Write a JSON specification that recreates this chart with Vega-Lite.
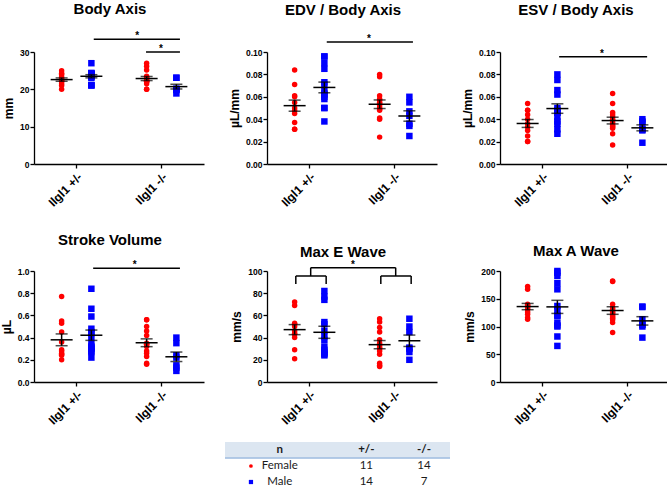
{
  "$schema": "https://vega.github.io/schema/vega-lite/v6.json",
  "background": "white",
  "padding": {"left": 0, "top": 2, "right": 0, "bottom": 0},
  "datasets": {
    "ba": [
      {"g":"Ilgl1 +/-","s":"Female","v":25.0},{"g":"Ilgl1 +/-","s":"Female","v":24.3},{"g":"Ilgl1 +/-","s":"Female","v":24.0},{"g":"Ilgl1 +/-","s":"Female","v":23.3},{"g":"Ilgl1 +/-","s":"Female","v":22.8},{"g":"Ilgl1 +/-","s":"Female","v":22.5},{"g":"Ilgl1 +/-","s":"Female","v":22.3},{"g":"Ilgl1 +/-","s":"Female","v":22.0},{"g":"Ilgl1 +/-","s":"Female","v":21.5},{"g":"Ilgl1 +/-","s":"Female","v":21.0},{"g":"Ilgl1 +/-","s":"Female","v":20.0},
      {"g":"Ilgl1 +/-","s":"Male","v":27.0},{"g":"Ilgl1 +/-","s":"Male","v":24.4},{"g":"Ilgl1 +/-","s":"Male","v":24.2},{"g":"Ilgl1 +/-","s":"Male","v":24.2},{"g":"Ilgl1 +/-","s":"Male","v":24.0},{"g":"Ilgl1 +/-","s":"Male","v":23.8},{"g":"Ilgl1 +/-","s":"Male","v":23.5},{"g":"Ilgl1 +/-","s":"Male","v":23.3},{"g":"Ilgl1 +/-","s":"Male","v":23.1},{"g":"Ilgl1 +/-","s":"Male","v":24.2},{"g":"Ilgl1 +/-","s":"Male","v":24.0},{"g":"Ilgl1 +/-","s":"Male","v":21.2},{"g":"Ilgl1 +/-","s":"Male","v":21.1},{"g":"Ilgl1 +/-","s":"Male","v":21.0},
      {"g":"Ilgl1 -/-","s":"Female","v":27.0},{"g":"Ilgl1 -/-","s":"Female","v":26.2},{"g":"Ilgl1 -/-","s":"Female","v":25.2},{"g":"Ilgl1 -/-","s":"Female","v":23.5},{"g":"Ilgl1 -/-","s":"Female","v":23.1},{"g":"Ilgl1 -/-","s":"Female","v":23.0},{"g":"Ilgl1 -/-","s":"Female","v":22.5},{"g":"Ilgl1 -/-","s":"Female","v":22.2},{"g":"Ilgl1 -/-","s":"Female","v":22.0},{"g":"Ilgl1 -/-","s":"Female","v":22.2},{"g":"Ilgl1 -/-","s":"Female","v":22.1},{"g":"Ilgl1 -/-","s":"Female","v":21.5},{"g":"Ilgl1 -/-","s":"Female","v":20.0},{"g":"Ilgl1 -/-","s":"Female","v":20.0},
      {"g":"Ilgl1 -/-","s":"Male","v":23.1},{"g":"Ilgl1 -/-","s":"Male","v":23.1},{"g":"Ilgl1 -/-","s":"Male","v":20.0},{"g":"Ilgl1 -/-","s":"Male","v":20.2},{"g":"Ilgl1 -/-","s":"Male","v":20.0},{"g":"Ilgl1 -/-","s":"Male","v":19.8},{"g":"Ilgl1 -/-","s":"Male","v":18.9}
    ],
    "edv": [
      {"g":"Ilgl1 +/-","s":"Female","v":0.084},{"g":"Ilgl1 +/-","s":"Female","v":0.071},{"g":"Ilgl1 +/-","s":"Female","v":0.061},{"g":"Ilgl1 +/-","s":"Female","v":0.060},{"g":"Ilgl1 +/-","s":"Female","v":0.055},{"g":"Ilgl1 +/-","s":"Female","v":0.050},{"g":"Ilgl1 +/-","s":"Female","v":0.048},{"g":"Ilgl1 +/-","s":"Female","v":0.045},{"g":"Ilgl1 +/-","s":"Female","v":0.037},{"g":"Ilgl1 +/-","s":"Female","v":0.031},{"g":"Ilgl1 +/-","s":"Female","v":0.031},
      {"g":"Ilgl1 +/-","s":"Male","v":0.096},{"g":"Ilgl1 +/-","s":"Male","v":0.096},{"g":"Ilgl1 +/-","s":"Male","v":0.090},{"g":"Ilgl1 +/-","s":"Male","v":0.085},{"g":"Ilgl1 +/-","s":"Male","v":0.073},{"g":"Ilgl1 +/-","s":"Male","v":0.071},{"g":"Ilgl1 +/-","s":"Male","v":0.065},{"g":"Ilgl1 +/-","s":"Male","v":0.063},{"g":"Ilgl1 +/-","s":"Male","v":0.062},{"g":"Ilgl1 +/-","s":"Male","v":0.060},{"g":"Ilgl1 +/-","s":"Male","v":0.058},{"g":"Ilgl1 +/-","s":"Male","v":0.050},{"g":"Ilgl1 +/-","s":"Male","v":0.050},{"g":"Ilgl1 +/-","s":"Male","v":0.038},
      {"g":"Ilgl1 -/-","s":"Female","v":0.080},{"g":"Ilgl1 -/-","s":"Female","v":0.078},{"g":"Ilgl1 -/-","s":"Female","v":0.061},{"g":"Ilgl1 -/-","s":"Female","v":0.058},{"g":"Ilgl1 -/-","s":"Female","v":0.057},{"g":"Ilgl1 -/-","s":"Female","v":0.055},{"g":"Ilgl1 -/-","s":"Female","v":0.054},{"g":"Ilgl1 -/-","s":"Female","v":0.052},{"g":"Ilgl1 -/-","s":"Female","v":0.050},{"g":"Ilgl1 -/-","s":"Female","v":0.049},{"g":"Ilgl1 -/-","s":"Female","v":0.048},{"g":"Ilgl1 -/-","s":"Female","v":0.041},{"g":"Ilgl1 -/-","s":"Female","v":0.040},{"g":"Ilgl1 -/-","s":"Female","v":0.024},
      {"g":"Ilgl1 -/-","s":"Male","v":0.060},{"g":"Ilgl1 -/-","s":"Male","v":0.055},{"g":"Ilgl1 -/-","s":"Male","v":0.047},{"g":"Ilgl1 -/-","s":"Male","v":0.043},{"g":"Ilgl1 -/-","s":"Male","v":0.036},{"g":"Ilgl1 -/-","s":"Male","v":0.034},{"g":"Ilgl1 -/-","s":"Male","v":0.025}
    ],
    "esv": [
      {"g":"Ilgl1 +/-","s":"Female","v":0.054},{"g":"Ilgl1 +/-","s":"Female","v":0.048},{"g":"Ilgl1 +/-","s":"Female","v":0.048},{"g":"Ilgl1 +/-","s":"Female","v":0.044},{"g":"Ilgl1 +/-","s":"Female","v":0.040},{"g":"Ilgl1 +/-","s":"Female","v":0.036},{"g":"Ilgl1 +/-","s":"Female","v":0.033},{"g":"Ilgl1 +/-","s":"Female","v":0.030},{"g":"Ilgl1 +/-","s":"Female","v":0.025},{"g":"Ilgl1 +/-","s":"Female","v":0.020},{"g":"Ilgl1 +/-","s":"Female","v":0.020},
      {"g":"Ilgl1 +/-","s":"Male","v":0.080},{"g":"Ilgl1 +/-","s":"Male","v":0.075},{"g":"Ilgl1 +/-","s":"Male","v":0.066},{"g":"Ilgl1 +/-","s":"Male","v":0.062},{"g":"Ilgl1 +/-","s":"Male","v":0.050},{"g":"Ilgl1 +/-","s":"Male","v":0.046},{"g":"Ilgl1 +/-","s":"Male","v":0.048},{"g":"Ilgl1 +/-","s":"Male","v":0.046},{"g":"Ilgl1 +/-","s":"Male","v":0.046},{"g":"Ilgl1 +/-","s":"Male","v":0.042},{"g":"Ilgl1 +/-","s":"Male","v":0.036},{"g":"Ilgl1 +/-","s":"Male","v":0.038},{"g":"Ilgl1 +/-","s":"Male","v":0.031},{"g":"Ilgl1 +/-","s":"Male","v":0.027},
      {"g":"Ilgl1 -/-","s":"Female","v":0.063},{"g":"Ilgl1 -/-","s":"Female","v":0.054},{"g":"Ilgl1 -/-","s":"Female","v":0.046},{"g":"Ilgl1 -/-","s":"Female","v":0.044},{"g":"Ilgl1 -/-","s":"Female","v":0.042},{"g":"Ilgl1 -/-","s":"Female","v":0.040},{"g":"Ilgl1 -/-","s":"Female","v":0.039},{"g":"Ilgl1 -/-","s":"Female","v":0.037},{"g":"Ilgl1 -/-","s":"Female","v":0.035},{"g":"Ilgl1 -/-","s":"Female","v":0.034},{"g":"Ilgl1 -/-","s":"Female","v":0.033},{"g":"Ilgl1 -/-","s":"Female","v":0.032},{"g":"Ilgl1 -/-","s":"Female","v":0.027},{"g":"Ilgl1 -/-","s":"Female","v":0.017},
      {"g":"Ilgl1 -/-","s":"Male","v":0.040},{"g":"Ilgl1 -/-","s":"Male","v":0.038},{"g":"Ilgl1 -/-","s":"Male","v":0.037},{"g":"Ilgl1 -/-","s":"Male","v":0.031},{"g":"Ilgl1 -/-","s":"Male","v":0.031},{"g":"Ilgl1 -/-","s":"Male","v":0.030},{"g":"Ilgl1 -/-","s":"Male","v":0.019}
    ],
    "sv": [
      {"g":"Ilgl1 +/-","s":"Female","v":0.77},{"g":"Ilgl1 +/-","s":"Female","v":0.55},{"g":"Ilgl1 +/-","s":"Female","v":0.53},{"g":"Ilgl1 +/-","s":"Female","v":0.45},{"g":"Ilgl1 +/-","s":"Female","v":0.36},{"g":"Ilgl1 +/-","s":"Female","v":0.29},{"g":"Ilgl1 +/-","s":"Female","v":0.28},{"g":"Ilgl1 +/-","s":"Female","v":0.26},{"g":"Ilgl1 +/-","s":"Female","v":0.25},{"g":"Ilgl1 +/-","s":"Female","v":0.24},{"g":"Ilgl1 +/-","s":"Female","v":0.20},
      {"g":"Ilgl1 +/-","s":"Male","v":0.84},{"g":"Ilgl1 +/-","s":"Male","v":0.66},{"g":"Ilgl1 +/-","s":"Male","v":0.59},{"g":"Ilgl1 +/-","s":"Male","v":0.48},{"g":"Ilgl1 +/-","s":"Male","v":0.45},{"g":"Ilgl1 +/-","s":"Male","v":0.44},{"g":"Ilgl1 +/-","s":"Male","v":0.40},{"g":"Ilgl1 +/-","s":"Male","v":0.34},{"g":"Ilgl1 +/-","s":"Male","v":0.32},{"g":"Ilgl1 +/-","s":"Male","v":0.31},{"g":"Ilgl1 +/-","s":"Male","v":0.30},{"g":"Ilgl1 +/-","s":"Male","v":0.28},{"g":"Ilgl1 +/-","s":"Male","v":0.27},{"g":"Ilgl1 +/-","s":"Male","v":0.22},
      {"g":"Ilgl1 -/-","s":"Female","v":0.56},{"g":"Ilgl1 -/-","s":"Female","v":0.56},{"g":"Ilgl1 -/-","s":"Female","v":0.50},{"g":"Ilgl1 -/-","s":"Female","v":0.46},{"g":"Ilgl1 -/-","s":"Female","v":0.42},{"g":"Ilgl1 -/-","s":"Female","v":0.35},{"g":"Ilgl1 -/-","s":"Female","v":0.34},{"g":"Ilgl1 -/-","s":"Female","v":0.34},{"g":"Ilgl1 -/-","s":"Female","v":0.32},{"g":"Ilgl1 -/-","s":"Female","v":0.28},{"g":"Ilgl1 -/-","s":"Female","v":0.26},{"g":"Ilgl1 -/-","s":"Female","v":0.23},{"g":"Ilgl1 -/-","s":"Female","v":0.17},{"g":"Ilgl1 -/-","s":"Female","v":0.16},
      {"g":"Ilgl1 -/-","s":"Male","v":0.40},{"g":"Ilgl1 -/-","s":"Male","v":0.35},{"g":"Ilgl1 -/-","s":"Male","v":0.24},{"g":"Ilgl1 -/-","s":"Male","v":0.22},{"g":"Ilgl1 -/-","s":"Male","v":0.15},{"g":"Ilgl1 -/-","s":"Male","v":0.13},{"g":"Ilgl1 -/-","s":"Male","v":0.10}
    ],
    "me": [
      {"g":"Ilgl1 +/-","s":"Female","v":72},{"g":"Ilgl1 +/-","s":"Female","v":69},{"g":"Ilgl1 +/-","s":"Female","v":53},{"g":"Ilgl1 +/-","s":"Female","v":52},{"g":"Ilgl1 +/-","s":"Female","v":50},{"g":"Ilgl1 +/-","s":"Female","v":46},{"g":"Ilgl1 +/-","s":"Female","v":44},{"g":"Ilgl1 +/-","s":"Female","v":43},{"g":"Ilgl1 +/-","s":"Female","v":40},{"g":"Ilgl1 +/-","s":"Female","v":29},{"g":"Ilgl1 +/-","s":"Female","v":21},
      {"g":"Ilgl1 +/-","s":"Male","v":82},{"g":"Ilgl1 +/-","s":"Male","v":77},{"g":"Ilgl1 +/-","s":"Male","v":74},{"g":"Ilgl1 +/-","s":"Male","v":54},{"g":"Ilgl1 +/-","s":"Male","v":52},{"g":"Ilgl1 +/-","s":"Male","v":46},{"g":"Ilgl1 +/-","s":"Male","v":41},{"g":"Ilgl1 +/-","s":"Male","v":38},{"g":"Ilgl1 +/-","s":"Male","v":32},{"g":"Ilgl1 +/-","s":"Male","v":29},{"g":"Ilgl1 +/-","s":"Male","v":27},{"g":"Ilgl1 +/-","s":"Male","v":26},{"g":"Ilgl1 +/-","s":"Male","v":25},{"g":"Ilgl1 +/-","s":"Male","v":24},
      {"g":"Ilgl1 -/-","s":"Female","v":57},{"g":"Ilgl1 -/-","s":"Female","v":54},{"g":"Ilgl1 -/-","s":"Female","v":49},{"g":"Ilgl1 -/-","s":"Female","v":45},{"g":"Ilgl1 -/-","s":"Female","v":38},{"g":"Ilgl1 -/-","s":"Female","v":35},{"g":"Ilgl1 -/-","s":"Female","v":33},{"g":"Ilgl1 -/-","s":"Female","v":31},{"g":"Ilgl1 -/-","s":"Female","v":30},{"g":"Ilgl1 -/-","s":"Female","v":28},{"g":"Ilgl1 -/-","s":"Female","v":25},{"g":"Ilgl1 -/-","s":"Female","v":17},{"g":"Ilgl1 -/-","s":"Female","v":15},{"g":"Ilgl1 -/-","s":"Female","v":14},
      {"g":"Ilgl1 -/-","s":"Male","v":57},{"g":"Ilgl1 -/-","s":"Male","v":50},{"g":"Ilgl1 -/-","s":"Male","v":45},{"g":"Ilgl1 -/-","s":"Male","v":31},{"g":"Ilgl1 -/-","s":"Male","v":30},{"g":"Ilgl1 -/-","s":"Male","v":27},{"g":"Ilgl1 -/-","s":"Male","v":20}
    ],
    "ma": [
      {"g":"Ilgl1 +/-","s":"Female","v":172},{"g":"Ilgl1 +/-","s":"Female","v":167},{"g":"Ilgl1 +/-","s":"Female","v":140},{"g":"Ilgl1 +/-","s":"Female","v":138},{"g":"Ilgl1 +/-","s":"Female","v":136},{"g":"Ilgl1 +/-","s":"Female","v":134},{"g":"Ilgl1 +/-","s":"Female","v":131},{"g":"Ilgl1 +/-","s":"Female","v":126},{"g":"Ilgl1 +/-","s":"Female","v":122},{"g":"Ilgl1 +/-","s":"Female","v":116},{"g":"Ilgl1 +/-","s":"Female","v":113},
      {"g":"Ilgl1 +/-","s":"Male","v":200},{"g":"Ilgl1 +/-","s":"Male","v":197},{"g":"Ilgl1 +/-","s":"Male","v":191},{"g":"Ilgl1 +/-","s":"Male","v":178},{"g":"Ilgl1 +/-","s":"Male","v":167},{"g":"Ilgl1 +/-","s":"Male","v":137},{"g":"Ilgl1 +/-","s":"Male","v":130},{"g":"Ilgl1 +/-","s":"Male","v":120},{"g":"Ilgl1 +/-","s":"Male","v":119},{"g":"Ilgl1 +/-","s":"Male","v":107},{"g":"Ilgl1 +/-","s":"Male","v":102},{"g":"Ilgl1 +/-","s":"Male","v":100},{"g":"Ilgl1 +/-","s":"Male","v":82},{"g":"Ilgl1 +/-","s":"Male","v":65},
      {"g":"Ilgl1 -/-","s":"Female","v":182},{"g":"Ilgl1 -/-","s":"Female","v":181},{"g":"Ilgl1 -/-","s":"Female","v":140},{"g":"Ilgl1 -/-","s":"Female","v":134},{"g":"Ilgl1 -/-","s":"Female","v":131},{"g":"Ilgl1 -/-","s":"Female","v":127},{"g":"Ilgl1 -/-","s":"Female","v":125},{"g":"Ilgl1 -/-","s":"Female","v":123},{"g":"Ilgl1 -/-","s":"Female","v":120},{"g":"Ilgl1 -/-","s":"Female","v":117},{"g":"Ilgl1 -/-","s":"Female","v":115},{"g":"Ilgl1 -/-","s":"Female","v":112},{"g":"Ilgl1 -/-","s":"Female","v":107},{"g":"Ilgl1 -/-","s":"Female","v":89},
      {"g":"Ilgl1 -/-","s":"Male","v":136},{"g":"Ilgl1 -/-","s":"Male","v":135},{"g":"Ilgl1 -/-","s":"Male","v":113},{"g":"Ilgl1 -/-","s":"Male","v":104},{"g":"Ilgl1 -/-","s":"Male","v":103},{"g":"Ilgl1 -/-","s":"Male","v":100},{"g":"Ilgl1 -/-","s":"Male","v":80}
    ],
    "tbl": [
      {"r":"n","c":"lab","t":"n"},{"r":"n","c":"+/-","t":"+/-"},{"r":"n","c":"-/-","t":"-/-"},
      {"r":"Female","c":"lab","t":"Female"},{"r":"Female","c":"+/-","t":"11"},{"r":"Female","c":"-/-","t":"14"},
      {"r":"Male","c":"lab","t":"Male"},{"r":"Male","c":"+/-","t":"14"},{"r":"Male","c":"-/-","t":"7"}
    ]
  },
  "resolve": {"scale": {"size": "independent"}},
  "spacing": 15,
  "vconcat": [
    {
      "spacing": 24,
      "hconcat": [
        {
          "bounds": "flush",
          "spacing": 107,
          "vconcat": [
            {
              "width": 170, "height": 112,
              "title": {"text": "Body Axis", "offset": 14},
              "data": {"name": "ba"},
              "layer": [
                {"mark": {"type": "point", "filled": true, "opacity": 1},
                 "encoding": {
                   "x": {"field": "g", "type": "nominal", "scale": {"type": "band", "domain": ["Ilgl1 +/-", "Ilgl1 -/-"], "paddingInner": 0.3, "paddingOuter": 0.15}, "axis": {"title": null}},
                   "xOffset": {"field": "s", "type": "nominal", "scale": {"domain": ["Female", "Male"], "paddingInner": 0, "paddingOuter": 0}},
                   "y": {"field": "v", "type": "quantitative", "title": "mm", "scale": {"domain": [0, 30], "nice": false}, "axis": {"title": "mm", "values": [0, 10, 20, 30], "tickCount": 20}},
                   "color": {"field": "s", "type": "nominal", "scale": {"domain": ["Female", "Male"], "range": ["#ff0000", "#0000ff"]}, "legend": null},
                   "shape": {"field": "s", "type": "nominal", "scale": {"domain": ["Female", "Male"], "range": ["circle", "square"]}, "legend": null},
                   "size": {"field": "s", "type": "ordinal", "scale": {"domain": ["Female", "Male"], "range": [30, 42]}, "legend": null}
                 }},
                {"mark": {"type": "tick", "color": "black", "size": 22, "thickness": 1.5},
                 "encoding": {"x": {"field": "g", "type": "nominal"}, "xOffset": {"field": "s", "type": "nominal"}, "y": {"aggregate": "mean", "field": "v", "type": "quantitative", "title": "mm"}}},
                {"mark": {"type": "errorbar", "extent": "stderr", "ticks": true, "size": 12, "thickness": 1.5, "color": "black"},
                 "encoding": {"x": {"field": "g", "type": "nominal"}, "xOffset": {"field": "s", "type": "nominal"}, "y": {"field": "v", "type": "quantitative", "title": "mm"}}},
                {"data": {"values": [{"a": "Ilgl1 +/-", "b": "Ilgl1 -/-"}]}, "mark": {"type": "rule", "color": "black", "strokeWidth": 1.5},
                 "encoding": {"x": {"field": "a", "type": "nominal", "bandPosition": 0.79, "title": null}, "x2": {"field": "b", "bandPosition": 0.81}, "y": {"datum": 33.4, "type": "quantitative"}}},
                {"data": {"values": [{"a": "Ilgl1 -/-", "b": "Ilgl1 -/-"}]}, "mark": {"type": "rule", "color": "black", "strokeWidth": 1.5},
                 "encoding": {"x": {"field": "a", "type": "nominal", "bandPosition": 0.24, "title": null}, "x2": {"field": "b", "bandPosition": 0.81}, "y": {"datum": 30, "type": "quantitative"}}},
                {"data": {"values": [{"a": "Ilgl1 -/-", "t": "*"}]}, "mark": {"type": "text", "fontSize": 10, "fontWeight": "bold", "baseline": "alphabetic", "color": "black"},
                 "encoding": {"x": {"field": "a", "type": "nominal", "bandPosition": 0.09, "title": null}, "y": {"datum": 33.4, "type": "quantitative"}, "text": {"field": "t"}}},
                {"data": {"values": [{"a": "Ilgl1 -/-", "t": "*"}]}, "mark": {"type": "text", "fontSize": 10, "fontWeight": "bold", "baseline": "alphabetic", "color": "black"},
                 "encoding": {"x": {"field": "a", "type": "nominal", "bandPosition": 0.49, "title": null}, "y": {"datum": 30, "type": "quantitative"}, "text": {"field": "t"}}}
              ]
            },
            {
              "width": 170, "height": 111,
              "title": {"text": "Stroke Volume", "offset": 12},
              "data": {"name": "sv"},
              "layer": [
                {"mark": {"type": "point", "filled": true, "opacity": 1},
                 "encoding": {
                   "x": {"field": "g", "type": "nominal", "scale": {"type": "band", "domain": ["Ilgl1 +/-", "Ilgl1 -/-"], "paddingInner": 0.3, "paddingOuter": 0.15}, "axis": {"title": null}},
                   "xOffset": {"field": "s", "type": "nominal", "scale": {"domain": ["Female", "Male"], "paddingInner": 0, "paddingOuter": 0}},
                   "y": {"field": "v", "type": "quantitative", "title": "µL", "scale": {"domain": [0, 1], "nice": false}, "axis": {"title": "µL", "values": [0, 0.2, 0.4, 0.6, 0.8, 1.0], "format": ".1f", "tickCount": 20}},
                   "color": {"field": "s", "type": "nominal", "scale": {"domain": ["Female", "Male"], "range": ["#ff0000", "#0000ff"]}, "legend": null},
                   "shape": {"field": "s", "type": "nominal", "scale": {"domain": ["Female", "Male"], "range": ["circle", "square"]}, "legend": null},
                   "size": {"field": "s", "type": "ordinal", "scale": {"domain": ["Female", "Male"], "range": [30, 42]}, "legend": null}
                 }},
                {"mark": {"type": "tick", "color": "black", "size": 22, "thickness": 1.5},
                 "encoding": {"x": {"field": "g", "type": "nominal"}, "xOffset": {"field": "s", "type": "nominal"}, "y": {"aggregate": "mean", "field": "v", "type": "quantitative", "title": "µL"}}},
                {"mark": {"type": "errorbar", "extent": "stderr", "ticks": true, "size": 12, "thickness": 1.5, "color": "black"},
                 "encoding": {"x": {"field": "g", "type": "nominal"}, "xOffset": {"field": "s", "type": "nominal"}, "y": {"field": "v", "type": "quantitative", "title": "µL"}}},
                {"data": {"values": [{"a": "Ilgl1 +/-", "b": "Ilgl1 -/-"}]}, "mark": {"type": "rule", "color": "black", "strokeWidth": 1.5},
                 "encoding": {"x": {"field": "a", "type": "nominal", "bandPosition": 0.78, "title": null}, "x2": {"field": "b", "bandPosition": 0.81}, "y": {"datum": 1.024, "type": "quantitative"}}},
                {"data": {"values": [{"a": "Ilgl1 -/-", "t": "*"}]}, "mark": {"type": "text", "fontSize": 10, "fontWeight": "bold", "baseline": "alphabetic", "color": "black"},
                 "encoding": {"x": {"field": "a", "type": "nominal", "bandPosition": 0.05, "title": null}, "y": {"datum": 1.024, "type": "quantitative"}, "text": {"field": "t"}}}
              ]
            }
          ]
        },
        {
          "bounds": "flush",
          "spacing": 107,
          "vconcat": [
            {
              "width": 170, "height": 112,
              "title": {"text": "EDV / Body  Axis", "offset": 16},
              "data": {"name": "edv"},
              "layer": [
                {"mark": {"type": "point", "filled": true, "opacity": 1},
                 "encoding": {
                   "x": {"field": "g", "type": "nominal", "scale": {"type": "band", "domain": ["Ilgl1 +/-", "Ilgl1 -/-"], "paddingInner": 0.3, "paddingOuter": 0.15}, "axis": {"title": null}},
                   "xOffset": {"field": "s", "type": "nominal", "scale": {"domain": ["Female", "Male"], "paddingInner": 0, "paddingOuter": 0}},
                   "y": {"field": "v", "type": "quantitative", "title": "µL/mm", "scale": {"domain": [0, 0.1], "nice": false}, "axis": {"title": "µL/mm", "values": [0, 0.02, 0.04, 0.06, 0.08, 0.1], "format": ".2f", "tickCount": 20}},
                   "color": {"field": "s", "type": "nominal", "scale": {"domain": ["Female", "Male"], "range": ["#ff0000", "#0000ff"]}, "legend": null},
                   "shape": {"field": "s", "type": "nominal", "scale": {"domain": ["Female", "Male"], "range": ["circle", "square"]}, "legend": null},
                   "size": {"field": "s", "type": "ordinal", "scale": {"domain": ["Female", "Male"], "range": [30, 42]}, "legend": null}
                 }},
                {"mark": {"type": "tick", "color": "black", "size": 22, "thickness": 1.5},
                 "encoding": {"x": {"field": "g", "type": "nominal"}, "xOffset": {"field": "s", "type": "nominal"}, "y": {"aggregate": "mean", "field": "v", "type": "quantitative", "title": "µL/mm"}}},
                {"mark": {"type": "errorbar", "extent": "stderr", "ticks": true, "size": 12, "thickness": 1.5, "color": "black"},
                 "encoding": {"x": {"field": "g", "type": "nominal"}, "xOffset": {"field": "s", "type": "nominal"}, "y": {"field": "v", "type": "quantitative", "title": "µL/mm"}}},
                {"data": {"values": [{"a": "Ilgl1 +/-", "b": "Ilgl1 -/-"}]}, "mark": {"type": "rule", "color": "black", "strokeWidth": 1.5},
                 "encoding": {"x": {"field": "a", "type": "nominal", "bandPosition": 0.79, "title": null}, "x2": {"field": "b", "bandPosition": 0.81}, "y": {"datum": 0.109, "type": "quantitative"}}},
                {"data": {"values": [{"a": "Ilgl1 -/-", "t": "*"}]}, "mark": {"type": "text", "fontSize": 10, "fontWeight": "bold", "baseline": "alphabetic", "color": "black"},
                 "encoding": {"x": {"field": "a", "type": "nominal", "bandPosition": 0.07, "title": null}, "y": {"datum": 0.109, "type": "quantitative"}, "text": {"field": "t"}}}
              ]
            },
            {
              "width": 170, "height": 111,
              "title": {"text": "Max E Wave", "offset": 0},
              "data": {"name": "me"},
              "layer": [
                {"mark": {"type": "point", "filled": true, "opacity": 1},
                 "encoding": {
                   "x": {"field": "g", "type": "nominal", "scale": {"type": "band", "domain": ["Ilgl1 +/-", "Ilgl1 -/-"], "paddingInner": 0.3, "paddingOuter": 0.15}, "axis": {"title": null}},
                   "xOffset": {"field": "s", "type": "nominal", "scale": {"domain": ["Female", "Male"], "paddingInner": 0, "paddingOuter": 0}},
                   "y": {"field": "v", "type": "quantitative", "title": "mm/s", "scale": {"domain": [0, 100], "nice": false}, "axis": {"title": "mm/s", "values": [0, 20, 40, 60, 80, 100], "tickCount": 20}},
                   "color": {"field": "s", "type": "nominal", "scale": {"domain": ["Female", "Male"], "range": ["#ff0000", "#0000ff"]}, "legend": null},
                   "shape": {"field": "s", "type": "nominal", "scale": {"domain": ["Female", "Male"], "range": ["circle", "square"]}, "legend": null},
                   "size": {"field": "s", "type": "ordinal", "scale": {"domain": ["Female", "Male"], "range": [30, 42]}, "legend": null}
                 }},
                {"mark": {"type": "tick", "color": "black", "size": 22, "thickness": 1.5},
                 "encoding": {"x": {"field": "g", "type": "nominal"}, "xOffset": {"field": "s", "type": "nominal"}, "y": {"aggregate": "mean", "field": "v", "type": "quantitative", "title": "mm/s"}}},
                {"mark": {"type": "errorbar", "extent": "stderr", "ticks": true, "size": 12, "thickness": 1.5, "color": "black"},
                 "encoding": {"x": {"field": "g", "type": "nominal"}, "xOffset": {"field": "s", "type": "nominal"}, "y": {"field": "v", "type": "quantitative", "title": "mm/s"}}},
                {"data": {"values": [{"a": "Ilgl1 +/-"}, {"a": "Ilgl1 -/-"}]}, "mark": {"type": "rule", "color": "black", "strokeWidth": 1.5},
                 "encoding": {"x": {"field": "a", "type": "nominal", "bandPosition": 0.27, "title": null}, "x2": {"field": "a", "bandPosition": 0.78}, "y": {"datum": 95.5, "type": "quantitative"}}},
                {"data": {"values": [{"a": "Ilgl1 +/-"}, {"a": "Ilgl1 -/-"}]}, "mark": {"type": "rule", "color": "black", "strokeWidth": 1.5},
                 "encoding": {"x": {"field": "a", "type": "nominal", "bandPosition": 0.27, "title": null}, "y": {"datum": 95.5, "type": "quantitative"}, "y2": {"datum": 88.3}}},
                {"data": {"values": [{"a": "Ilgl1 +/-"}, {"a": "Ilgl1 -/-"}]}, "mark": {"type": "rule", "color": "black", "strokeWidth": 1.5},
                 "encoding": {"x": {"field": "a", "type": "nominal", "bandPosition": 0.78, "title": null}, "y": {"datum": 95.5, "type": "quantitative"}, "y2": {"datum": 88.3}}},
                {"data": {"values": [{"a": "Ilgl1 +/-"}, {"a": "Ilgl1 -/-"}]}, "mark": {"type": "rule", "color": "black", "strokeWidth": 1.5},
                 "encoding": {"x": {"field": "a", "type": "nominal", "bandPosition": 0.52, "title": null}, "y": {"datum": 95.5, "type": "quantitative"}, "y2": {"datum": 103}}},
                {"data": {"values": [{"a": "Ilgl1 +/-", "b": "Ilgl1 -/-"}]}, "mark": {"type": "rule", "color": "black", "strokeWidth": 1.5},
                 "encoding": {"x": {"field": "a", "type": "nominal", "bandPosition": 0.52, "title": null}, "x2": {"field": "b", "bandPosition": 0.52}, "y": {"datum": 103, "type": "quantitative"}}},
                {"data": {"values": [{"a": "Ilgl1 +/-", "t": "*"}]}, "mark": {"type": "text", "fontSize": 10, "fontWeight": "bold", "baseline": "alphabetic", "color": "black"},
                 "encoding": {"x": {"field": "a", "type": "nominal", "bandPosition": 1.23, "title": null}, "y": {"datum": 103, "type": "quantitative"}, "text": {"field": "t"}}}
              ]
            }
          ]
        },
        {
          "bounds": "flush",
          "spacing": 107,
          "vconcat": [
            {
              "width": 170, "height": 112,
              "title": {"text": "ESV / Body Axis", "offset": 30},
              "data": {"name": "esv"},
              "layer": [
                {"mark": {"type": "point", "filled": true, "opacity": 1},
                 "encoding": {
                   "x": {"field": "g", "type": "nominal", "scale": {"type": "band", "domain": ["Ilgl1 +/-", "Ilgl1 -/-"], "paddingInner": 0.3, "paddingOuter": 0.15}, "axis": {"title": null}},
                   "xOffset": {"field": "s", "type": "nominal", "scale": {"domain": ["Female", "Male"], "paddingInner": 0, "paddingOuter": 0}},
                   "y": {"field": "v", "type": "quantitative", "title": "µL/mm", "scale": {"domain": [0, 0.1], "nice": false}, "axis": {"title": "µL/mm", "values": [0, 0.02, 0.04, 0.06, 0.08, 0.1], "format": ".2f", "tickCount": 20}},
                   "color": {"field": "s", "type": "nominal", "scale": {"domain": ["Female", "Male"], "range": ["#ff0000", "#0000ff"]}, "legend": null},
                   "shape": {"field": "s", "type": "nominal", "scale": {"domain": ["Female", "Male"], "range": ["circle", "square"]}, "legend": null},
                   "size": {"field": "s", "type": "ordinal", "scale": {"domain": ["Female", "Male"], "range": [30, 42]}, "legend": null}
                 }},
                {"mark": {"type": "tick", "color": "black", "size": 22, "thickness": 1.5},
                 "encoding": {"x": {"field": "g", "type": "nominal"}, "xOffset": {"field": "s", "type": "nominal"}, "y": {"aggregate": "mean", "field": "v", "type": "quantitative", "title": "µL/mm"}}},
                {"mark": {"type": "errorbar", "extent": "stderr", "ticks": true, "size": 12, "thickness": 1.5, "color": "black"},
                 "encoding": {"x": {"field": "g", "type": "nominal"}, "xOffset": {"field": "s", "type": "nominal"}, "y": {"field": "v", "type": "quantitative", "title": "µL/mm"}}},
                {"data": {"values": [{"a": "Ilgl1 +/-", "b": "Ilgl1 -/-"}]}, "mark": {"type": "rule", "color": "black", "strokeWidth": 1.5},
                 "encoding": {"x": {"field": "a", "type": "nominal", "bandPosition": 0.78, "title": null}, "x2": {"field": "b", "bandPosition": 0.83}, "y": {"datum": 0.0958, "type": "quantitative"}}},
                {"data": {"values": [{"a": "Ilgl1 -/-", "t": "*"}]}, "mark": {"type": "text", "fontSize": 10, "fontWeight": "bold", "baseline": "alphabetic", "color": "black"},
                 "encoding": {"x": {"field": "a", "type": "nominal", "bandPosition": 0.07, "title": null}, "y": {"datum": 0.0958, "type": "quantitative"}, "text": {"field": "t"}}}
              ]
            },
            {
              "width": 170, "height": 111,
              "title": {"text": "Max A Wave", "offset": 8},
              "data": {"name": "ma"},
              "layer": [
                {"mark": {"type": "point", "filled": true, "opacity": 1},
                 "encoding": {
                   "x": {"field": "g", "type": "nominal", "scale": {"type": "band", "domain": ["Ilgl1 +/-", "Ilgl1 -/-"], "paddingInner": 0.3, "paddingOuter": 0.15}, "axis": {"title": null}},
                   "xOffset": {"field": "s", "type": "nominal", "scale": {"domain": ["Female", "Male"], "paddingInner": 0, "paddingOuter": 0}},
                   "y": {"field": "v", "type": "quantitative", "title": "mm/s", "scale": {"domain": [0, 200], "nice": false}, "axis": {"title": "mm/s", "values": [0, 50, 100, 150, 200], "tickCount": 20}},
                   "color": {"field": "s", "type": "nominal", "scale": {"domain": ["Female", "Male"], "range": ["#ff0000", "#0000ff"]}, "legend": null},
                   "shape": {"field": "s", "type": "nominal", "scale": {"domain": ["Female", "Male"], "range": ["circle", "square"]}, "legend": null},
                   "size": {"field": "s", "type": "ordinal", "scale": {"domain": ["Female", "Male"], "range": [30, 42]}, "legend": null}
                 }},
                {"mark": {"type": "tick", "color": "black", "size": 22, "thickness": 1.5},
                 "encoding": {"x": {"field": "g", "type": "nominal"}, "xOffset": {"field": "s", "type": "nominal"}, "y": {"aggregate": "mean", "field": "v", "type": "quantitative", "title": "mm/s"}}},
                {"mark": {"type": "errorbar", "extent": "stderr", "ticks": true, "size": 12, "thickness": 1.5, "color": "black"},
                 "encoding": {"x": {"field": "g", "type": "nominal"}, "xOffset": {"field": "s", "type": "nominal"}, "y": {"field": "v", "type": "quantitative", "title": "mm/s"}}}
              ]
            }
          ]
        }
      ]
    },
    {
      "spacing": 14,
      "hconcat": [
        {"width": 176, "height": 48, "data": {"values": []}, "mark": "text", "encoding": {}},
        {
          "width": 225, "height": 48,
          "data": {"name": "tbl"},
          "layer": [
            {"transform": [{"filter": "datum.r === 'n'"}], "mark": {"type": "rect", "color": "#dce6f1"},
             "encoding": {"y": {"field": "r", "type": "nominal", "scale": {"type": "band", "domain": ["n", "Female", "Male"], "paddingInner": 0, "paddingOuter": 0}, "axis": null}}},
            {"transform": [{"filter": "datum.r === 'n'"}], "mark": {"type": "rule", "color": "#a9c3e3", "strokeWidth": 1},
             "encoding": {"y": {"field": "r", "type": "nominal", "bandPosition": 1, "axis": null}}},
            {"transform": [{"filter": "datum.r === 'n'"}], "mark": {"type": "text", "font": "Lato", "fontSize": 11.5, "fontWeight": "bold", "color": "#1a1a1a"},
             "encoding": {"x": {"field": "c", "type": "nominal", "scale": {"type": "point", "domain": ["sym", "lab", "k1", "k2", "+/-", "k3", "-/-"], "padding": 0.9}, "axis": null}, "y": {"field": "r", "type": "nominal", "axis": null}, "text": {"field": "t"}}},
            {"transform": [{"filter": "datum.r !== 'n'"}], "mark": {"type": "text", "font": "Lato", "fontSize": 11.5, "color": "#1a1a1a"},
             "encoding": {"x": {"field": "c", "type": "nominal", "axis": null}, "y": {"field": "r", "type": "nominal", "axis": null}, "text": {"field": "t"}}},
            {"data": {"values": [{"r": "Female"}, {"r": "Male"}]}, "mark": {"type": "point", "filled": true, "opacity": 1},
             "encoding": {"x": {"datum": "sym", "type": "nominal"}, "y": {"field": "r", "type": "nominal", "axis": null},
               "color": {"field": "r", "type": "nominal", "scale": {"domain": ["Female", "Male"], "range": ["#ff0000", "#0000ff"]}, "legend": null},
               "shape": {"field": "r", "type": "nominal", "scale": {"domain": ["Female", "Male"], "range": ["circle", "square"]}, "legend": null},
               "size": {"field": "r", "type": "ordinal", "scale": {"domain": ["Female", "Male"], "range": [14, 18]}, "legend": null}}}
          ]
        }
      ]
    }
  ],
  "config": {
    "view": {"stroke": null},
    "font": "Liberation Sans",
    "axis": {"grid": false, "domainColor": "#000", "domainWidth": 1.3, "tickColor": "#000", "tickWidth": 1.3, "tickSize": 4, "labelColor": "#000", "labelFont": "Liberation Sans", "labelFontWeight": "bold", "titleFont": "Liberation Sans", "titleFontWeight": "bold", "titleColor": "#000", "titleFontSize": 12},
    "axisX": {"labelAngle": -45, "labelFontSize": 12, "labelPadding": 3},
    "axisY": {"labelFontSize": 8.5, "labelPadding": 1, "titlePadding": 4, "labelOverlap": false},
    "title": {"font": "Liberation Sans", "fontSize": 15, "fontWeight": "bold", "color": "#000", "anchor": "middle", "dx": -9},
    "legend": {"disable": true}
  }
}
